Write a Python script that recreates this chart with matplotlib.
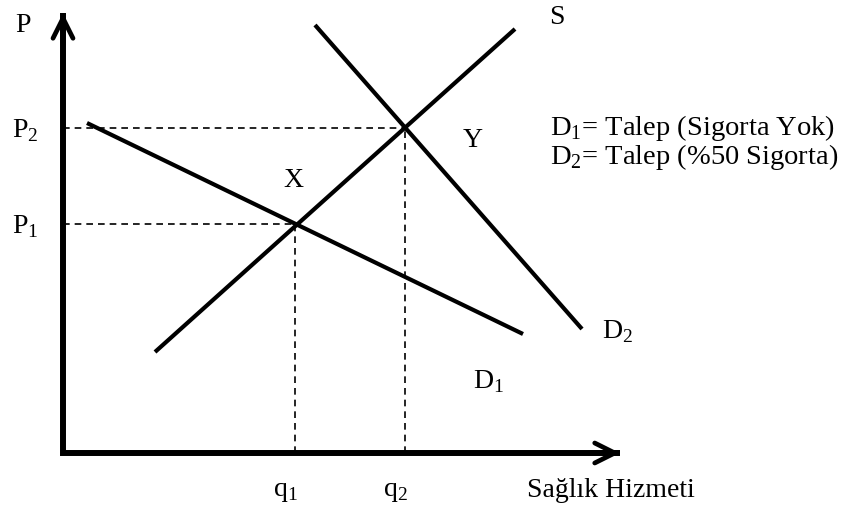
import matplotlib.pyplot as plt

plt.rcParams["font.family"] = ["Liberation Serif", "DejaVu Serif"]
plt.rcParams["mathtext.fontset"] = "custom"
plt.rcParams["mathtext.rm"] = "Liberation Serif"

# Equilibrium points (quantity, price), origin at the axis corner
q_eq = [232, 342]
p_eq = [229, 325]

# Curve end points
supply_q = [92, 452]
supply_p = [101, 424]
d1_q = [24, 460]
d1_p = [330, 119]
d2_q = [252, 519]
d2_p = [428, 124]

q_labels = ["q$_\\mathrm{1}$", "q$_\\mathrm{2}$"]
p_labels = ["P$_\\mathrm{1}$", "P$_\\mathrm{2}$"]
point_labels = ["X", "Y"]
legend_lines = ["D$_\\mathrm{1}$= Talep (Sigorta Yok)",
                "D$_\\mathrm{2}$= Talep (%50 Sigorta)"]
x_title = "Sağlık Hizmeti"
y_title = "P"

fig = plt.figure(figsize=(8.49, 5.11), dpi=100)
ax = fig.add_axes([0, 0, 1, 1])
ax.set_xlim(-63, 786)
ax.set_ylim(-58, 453)
ax.axis("off")

fs = 20
x_end, y_end = 557, 440

# axes
ax.plot([0, 0, x_end], [y_end, 0, 0], color="black", lw=4.3,
        solid_joinstyle="miter", solid_capstyle="butt")
arrow = dict(arrowstyle="->,head_length=0.4,head_width=0.2", lw=3.4,
             color="black", mutation_scale=36, shrinkA=0, shrinkB=0)
ax.annotate("", xy=(0, y_end), xytext=(0, y_end - 30), arrowprops=arrow)
ax.annotate("", xy=(x_end, 0), xytext=(x_end - 30, 0), arrowprops=arrow)

# curves
for qs, ps in [(supply_q, supply_p), (d1_q, d1_p), (d2_q, d2_p)]:
    ax.plot(qs, ps, color="black", lw=3.0, solid_capstyle="butt")

# dashed guides
for q, p in zip(q_eq, p_eq):
    ax.plot([0, q], [p, p], color="black", lw=1.2, ls=(0, (4, 3)))
    ax.plot([q, q], [0, p], color="black", lw=1.2, ls=(0, (4, 3)))

# labels
ax.text(-40, 428, y_title, fontsize=fs, ha="center", va="center")
ax.text(494, 436, "S", fontsize=fs, ha="center", va="center")
for p, lab in zip(p_eq, p_labels):
    ax.text(-38, p - 3, lab, fontsize=fs, ha="center", va="center")
for q, lab in zip(q_eq, q_labels):
    ax.text(q - 10, -38, lab, fontsize=fs, ha="center", va="center")
ax.text(q_eq[0] - 2, p_eq[0] + 44, point_labels[0], fontsize=fs,
        ha="center", va="center")
ax.text(q_eq[1] + 68, p_eq[1] - 12, point_labels[1], fontsize=fs,
        ha="center", va="center")
ax.text(d2_q[1] + 36, d2_p[1] - 3, "D$_\\mathrm{2}$", fontsize=fs,
        ha="center", va="center")
ax.text(426, 71, "D$_\\mathrm{1}$", fontsize=fs, ha="center", va="center")
ax.text(464, -37, x_title, fontsize=fs, ha="left", va="center")
for i, line in enumerate(legend_lines):
    ax.text(487, 325 - 29 * i, line, fontsize=20.5, ha="left", va="center")

fig.savefig("out.png", dpi=100)
